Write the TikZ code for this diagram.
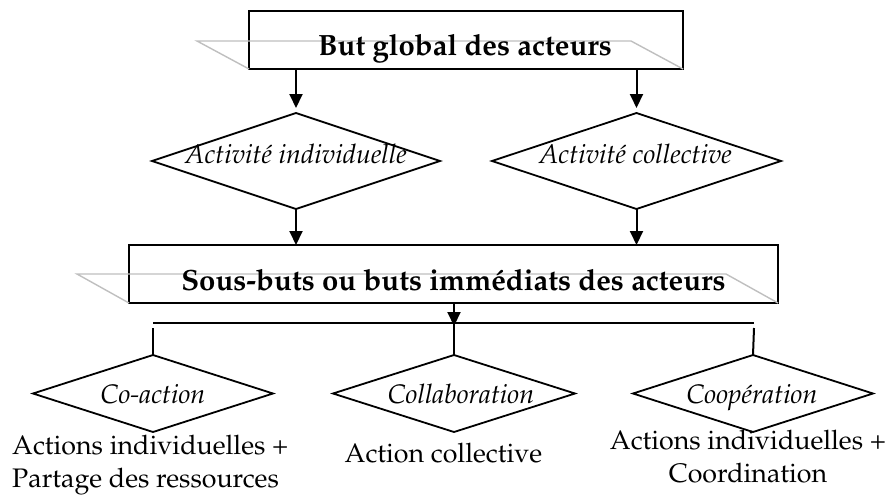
\documentclass[tikz,border=0pt]{standalone}
\usepackage[T1]{fontenc}
\usepackage{mathpazo}
\usetikzlibrary{arrows.meta,shapes.geometric,calc}
\begin{document}
\begin{tikzpicture}[x=1pt,y=-1pt,
  goalbox/.style={draw,line width=2pt,inner sep=0pt,outer sep=0pt,
    minimum width=#1,minimum height=58pt},
  plate/.style={draw=black!25,line width=1.4pt},
  choice/.style={draw,shape=diamond,line width=1.8pt,inner sep=0pt,outer sep=0pt},
  goaltext/.style={font=\bfseries\fontsize{29.3}{33}\selectfont,inner sep=0pt,anchor=base},
  choicetext/.style={font=\itshape\fontsize{26.8}{30}\selectfont,inner sep=0pt,anchor=base},
  notetext/.style={font=\fontsize{26.8}{33}\selectfont,inner sep=0pt,anchor=base},
  arr/.style={line width=2pt,-{Triangle[length=14pt,width=13pt]}},
  link/.style={line width=2pt}]
\useasboundingbox (0,0) rectangle (893,496);

% upper goal box with its grey plate
\node[goalbox=434pt] (b1) at (466,40) {};
\draw[plate] (b1.south west) -- ++(-52,-28) -- ($(b1.south east)+(-52,-28)$) -- (b1.south east);
\node[goaltext] (t1) at (465,55) {But global des acteurs};

% the two kinds of activity
\node[choice,minimum width=288pt,minimum height=96pt] (d1) at (296,161) {};
\node[choice,minimum width=289pt,minimum height=96pt] (d2) at (636.5,161) {};
\node[choicetext] (td1) at ($(d1.center)+(0,2)$) {Activit\'e individuelle};
\node[choicetext] (td2) at ($(d2.center)+(-1,2)$) {Activit\'e collective};

% lower goal box with its grey plate
\node[goalbox=649pt] (b2) at (453.5,274) {};
\draw[plate] (b2.south west) -- ++(-52,-29) -- ($(b2.south east)+(-52,-29)$) -- (b2.south east);
\node[goaltext] (t2) at (453.5,290) {Sous-buts ou buts imm\'ediats des acteurs};

% arrows between the upper levels
\draw[arr] (d1.north |- b1.south) -- ([yshift=5pt]d1.north);
\draw[arr] (d2.north |- b1.south) -- ([yshift=5pt]d2.north);
\draw[arr] (d1.south) -- (d1.south |- b2.north);
\draw[arr] (d2.south) -- (d2.south |- b2.north);

% the three forms of working together
\node[choice,minimum width=240pt,minimum height=77pt] (d3) at (153,393.5) {};
\node[choice,minimum width=242pt,minimum height=77pt] (d4) at (454,393.5) {};
\node[choice,minimum width=240pt,minimum height=77pt] (d5) at (753,393.5) {};
\node[choicetext] (td3) at ($(d3.center)+(0,10)$) {Co-action};
\node[choicetext] (td4) at ($(d4.center)+(7,10)$) {Collaboration};
\node[choicetext] (td5) at ($(d5.center)+(-1,10)$) {Coop\'eration};

% distribution bar
\coordinate (busL) at (153,323);
\coordinate (busR) at (754,323);
\coordinate (busM) at (d4.north |- busL);
\draw[link] (busL) -- (busR);
\draw[arr] (d4.north |- b2.south) -- ([yshift=-3pt]busM);
\draw[link] (busM) -- (d4.north);
\draw[link] ([yshift=-5pt]busL) -- (d3.north);
\draw[link] ([yshift=-5pt]busR) -- (d5.north);

% descriptions (a multi-line node sits on its last baseline)
\node[notetext,anchor=base west,align=left] (n3) at (12,487)
  {Actions individuelles +\\Partage des ressources};
\node[notetext] (n4) at (443.5,462) {Action collective};
\node[notetext,align=center] (n5) at (748,482)
  {Actions individuelles +\\Coordination};
\end{tikzpicture}
\end{document}
